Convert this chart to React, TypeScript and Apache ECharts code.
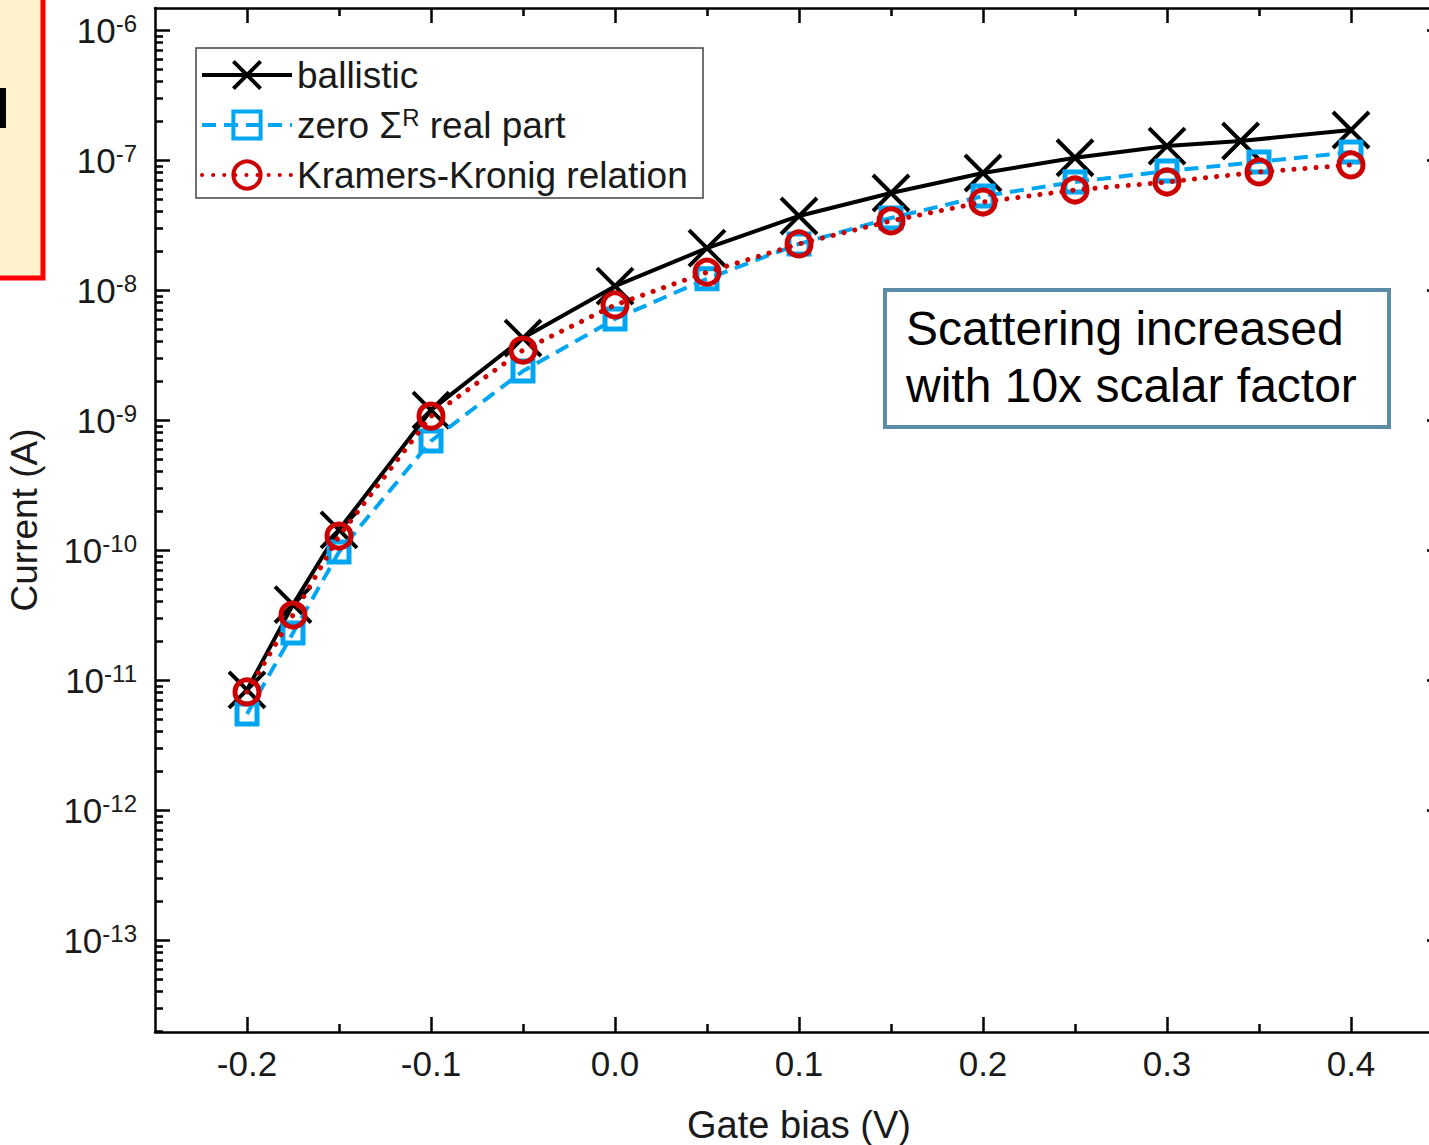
import React, { useEffect, useRef } from "react";
import * as echarts from "echarts";

// ---- data (currents in A) ----
const gateBias = [-0.2, -0.175, -0.15, -0.1, -0.05, 0, 0.05, 0.1, 0.15, 0.2, 0.25, 0.3, 0.35, 0.4];
const ballisticBias = [-0.2, -0.175, -0.15, -0.1, -0.05, 0, 0.05, 0.1, 0.15, 0.2, 0.25, 0.3, 0.34, 0.4];
const ballistic = [8.4e-12, 3.8e-11, 1.43e-10, 1.19e-9, 4.27e-9, 1.07e-8, 2.1e-8, 3.71e-8, 5.57e-8, 7.94e-8, 1.04e-7, 1.28e-7, 1.4e-7, 1.7e-7];
const zeroRealPart = [5.47e-12, 2.3e-11, 9.66e-11, 6.89e-10, 2.38e-9, 5.98e-9, 1.22e-8, 2.26e-8, 3.58e-8, 5.28e-8, 6.77e-8, 8.23e-8, 9.66e-8, 1.15e-7];
const kramersKronig = [8.09e-12, 3.16e-11, 1.28e-10, 1.07e-9, 3.45e-9, 7.67e-9, 1.37e-8, 2.26e-8, 3.4e-8, 4.75e-8, 5.88e-8, 6.77e-8, 8.09e-8, 9.16e-8];

const seriesNames = ["ballistic", "zero ΣR real part", "Kramers-Kronig relation"];
const xMajorTicks = [-0.2, -0.1, 0.0, 0.1, 0.2, 0.3, 0.4];
const xMinorTicks = [-0.15, -0.05, 0.05, 0.15, 0.25, 0.35];
const yDecadeExponents = [-13, -12, -11, -10, -9, -8, -7, -6];
const yMinorMultipliers = [2, 3, 4, 5, 6, 7, 8, 9];

const X_MIN = -0.25;
const X_MAX = 0.45;
const Y_MIN = -13.7077; // log10 of current
const Y_MAX = -5.8308;

const FONT = '"Liberation Sans", Arial, Helvetica, sans-serif';

const toPoints = (xs: number[], ys: number[]) => xs.map((x, i) => [x, Math.log10(ys[i])]);

const yMinorTicks: number[] = [];
for (let n = -14; n <= -6; n++) {
  for (const k of yMinorMultipliers) {
    const v = n + Math.log10(k);
    if (v > Y_MIN && v < Y_MAX) yMinorTicks.push(v);
  }
}

const AXIS_COLOR = "#000";
const TEXT_COLOR = "#1a1a1a";

export default function App() {
  const ref = useRef<HTMLDivElement>(null);

  useEffect(() => {
    document.body.style.margin = "0";
    document.body.style.overflow = "hidden";
    const chart = echarts.init(ref.current!, undefined, { renderer: "svg" });

    const lineAxis = { show: true, onZero: false, lineStyle: { color: AXIS_COLOR, width: 2.5 } };
    const noLine = { show: false, onZero: false };
    const tickStyle = { color: AXIS_COLOR, width: 2.5 };

    const option: any = {
      animation: false,
      backgroundColor: "#ffffff",
      grid: { left: 155, top: 8, width: 1288, height: 1024, containLabel: false, outerBoundsMode: "none" },
      xAxis: [
        {
          type: "value",
          position: "bottom",
          min: X_MIN,
          max: X_MAX,
          axisLine: lineAxis,
          axisTick: { show: true, inside: true, length: 15, lineStyle: tickStyle, customValues: xMajorTicks },
          axisLabel: {
            customValues: xMajorTicks,
            formatter: (v: number) => v.toFixed(1),
            fontSize: 35,
            fontFamily: FONT,
            color: TEXT_COLOR,
            margin: 14,
          },
          splitLine: { show: false },
          name: "Gate bias (V)",
          nameLocation: "middle",
          nameGap: 74,
          nameTextStyle: { fontSize: 38, fontFamily: FONT, color: TEXT_COLOR },
        },
        {
          type: "value",
          position: "bottom",
          min: X_MIN,
          max: X_MAX,
          axisLine: noLine,
          axisTick: { show: true, inside: true, length: 8, lineStyle: tickStyle, customValues: xMinorTicks },
          axisLabel: { show: false },
          splitLine: { show: false },
        },
        {
          type: "value",
          position: "top",
          min: X_MIN,
          max: X_MAX,
          axisLine: lineAxis,
          axisTick: { show: true, inside: true, length: 15, lineStyle: tickStyle, customValues: xMajorTicks },
          axisLabel: { show: false },
          splitLine: { show: false },
        },
        {
          type: "value",
          position: "top",
          min: X_MIN,
          max: X_MAX,
          axisLine: noLine,
          axisTick: { show: true, inside: true, length: 8, lineStyle: tickStyle, customValues: xMinorTicks },
          axisLabel: { show: false },
          splitLine: { show: false },
        },
      ],
      yAxis: [
        {
          type: "value",
          position: "left",
          min: Y_MIN,
          max: Y_MAX,
          axisLine: lineAxis,
          axisTick: { show: true, inside: true, length: 15, lineStyle: tickStyle, customValues: yDecadeExponents },
          axisLabel: {
            customValues: yDecadeExponents,
            formatter: (v: number) => `{b|10}{s|${Math.round(v)}}`,
            margin: 18,
            rich: {
              b: { fontSize: 35, fontFamily: FONT, color: TEXT_COLOR, lineHeight: 36, verticalAlign: "bottom" },
              s: { fontSize: 24, fontFamily: FONT, color: TEXT_COLOR, lineHeight: 24, verticalAlign: "top" },
            },
          },
          splitLine: { show: false },
          name: "Current (A)",
          nameLocation: "middle",
          nameGap: 112,
          nameRotate: 90,
          nameTextStyle: { fontSize: 37, fontFamily: FONT, color: TEXT_COLOR },
        },
        {
          type: "value",
          position: "left",
          min: Y_MIN,
          max: Y_MAX,
          axisLine: noLine,
          axisTick: { show: true, inside: true, length: 8, lineStyle: tickStyle, customValues: yMinorTicks },
          axisLabel: { show: false },
          splitLine: { show: false },
        },
        {
          type: "value",
          position: "right",
          min: Y_MIN,
          max: Y_MAX,
          axisLine: lineAxis,
          axisTick: { show: true, inside: true, length: 16, lineStyle: tickStyle, customValues: yDecadeExponents },
          axisLabel: { show: false },
          splitLine: { show: false },
        },
      ],
      legend: {
        orient: "vertical",
        left: 196,
        top: 48,
        padding: [7, 4, 5, 4],
        itemGap: 10,
        itemWidth: 90,
        itemHeight: 34,
        data: seriesNames,
        selectedMode: false,
        itemStyle: { borderWidth: 4 },
        lineStyle: { width: 4 },
        formatter: (name: string) => (name === seriesNames[1] ? "zero Σ{sup|R} real part" : name),
        textStyle: {
          fontSize: 37,
          fontFamily: FONT,
          color: TEXT_COLOR,
          lineHeight: 40,
          rich: {
            sup: { fontSize: 24, fontFamily: FONT, color: TEXT_COLOR, lineHeight: 24, verticalAlign: "top" },
          },
        },
      },
      graphic: [
        { type: "rect", shape: { x: -10, y: -10, width: 53, height: 288 }, style: { fill: "#FFF2CC", stroke: "#FF0000", lineWidth: 5 } },
        { type: "rect", shape: { x: 0, y: 88, width: 6, height: 40 }, style: { fill: "#000" } },
        { type: "rect", shape: { x: 196, y: 48, width: 507, height: 150 }, style: { fill: "none", stroke: "#444", lineWidth: 1.5 } },
        { type: "rect", shape: { x: 885, y: 290, width: 504, height: 137 }, style: { fill: "#fff", stroke: "#5B8DA8", lineWidth: 4 } },
        {
          type: "text",
          x: 906,
          y: 300,
          style: {
            text: "Scattering increased\nwith 10x scalar factor",
            fontSize: 48,
            fontFamily: FONT,
            fill: "#000",
            lineHeight: 57,
            verticalAlign: "top",
          },
        },
      ],
      series: [
        {
          name: seriesNames[0],
          type: "line",
          data: toPoints(ballisticBias, ballistic),
          symbol: "path://M0,0L10,10M10,0L0,10",
          symbolSize: 36,
          showAllSymbol: true,
          itemStyle: { color: "#000", borderColor: "#000", borderWidth: 4 },
          lineStyle: { color: "#000", width: 4, type: "solid" },
          z: 2,
        },
        {
          name: seriesNames[1],
          type: "line",
          data: toPoints(gateBias, zeroRealPart),
          symbol: "rect",
          symbolSize: 20,
          showAllSymbol: true,
          itemStyle: { color: "rgba(255,255,255,0)", borderColor: "#00A6F2", borderWidth: 5 },
          lineStyle: { color: "#00A6F2", width: 4, type: [14, 8] },
          z: 3,
        },
        {
          name: seriesNames[2],
          type: "line",
          data: toPoints(gateBias, kramersKronig),
          symbol: "circle",
          symbolSize: 24,
          showAllSymbol: true,
          itemStyle: { color: "rgba(255,255,255,0)", borderColor: "#CC0000", borderWidth: 5 },
          lineStyle: { color: "#CC0000", width: 5, type: [0.1, 11], cap: "round" },
          z: 4,
        },
      ],
    };

    chart.setOption(option);
    return () => chart.dispose();
  }, []);

  return <div ref={ref} style={{ width: 1460, height: 1145 }} />;
}
